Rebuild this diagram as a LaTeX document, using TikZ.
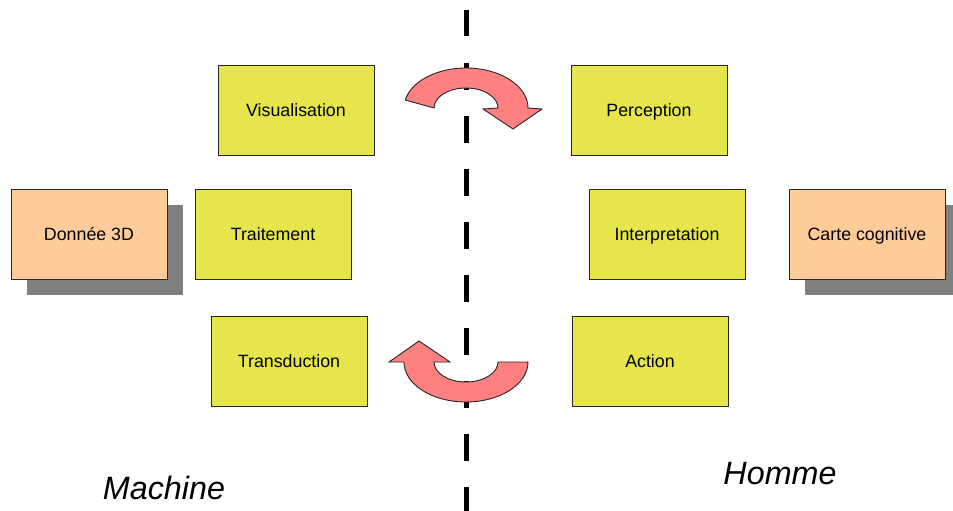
\documentclass[tikz,border=0pt]{standalone}
\usepackage{fontspec}
\setmainfont{Liberation Sans}
\definecolor{boxyellow}{RGB}{230,230,76}
\definecolor{boxorange}{RGB}{255,204,153}
\definecolor{shadowgray}{RGB}{128,128,128}
\definecolor{arrowred}{RGB}{255,128,128}
\begin{document}
\begin{tikzpicture}[x=1pt,y=-1pt,
  stage/.style={draw=black!85,line width=0.9pt,fill=boxyellow,minimum width=156pt,minimum height=90pt,inner sep=0pt,
    text height=13pt,text depth=0pt,font=\fontsize{17.8}{20}\selectfont},
  source/.style={stage,fill=boxorange},
  dropshadow/.style={fill=shadowgray,draw=none},
  turn/.style={fill=arrowred,draw=black!85,line width=0.9pt,line join=miter},
  side/.style={font=\fontsize{32.3}{36}\selectfont\itshape}]
\useasboundingbox (0,0) rectangle (953,511);
\begin{scope}
\clip (0,0) rectangle (953,511);
% separating dashed line
\draw[line width=5pt,dash pattern=on 26.5pt off 26.5pt] (466,10) coordinate (top) -- (466,530) coordinate (bottom);
% drop shadows of the two end boxes
\fill[dropshadow] (27,205) rectangle (183,295);
\fill[dropshadow] (805,205) rectangle (961,295);
\end{scope}
% machine side
\node[stage]  (vis)    at (296,110) {Visualisation};
\node[stage]  (trait)  at (273,234) {Traitement};
\node[stage]  (trans)  at (289,361) {Transduction};
\node[source] (donnee) at (89,234)  {Donnée 3D};
% human side
\node[stage]  (perc)   at (649,110) {Perception};
\node[stage]  (interp) at (667,234) {Interpretation};
\node[stage]  (action) at (650,361) {Action};
\node[source] (carte)  at (867,234) {Carte cognitive};
% circular arrows crossing the line
\coordinate (topc) at (466,108);
\draw[turn] ([shift={(191.5:62 and 40)}]topc)
  arc[start angle=191.5,end angle=360,x radius=62,y radius=40]
  -- (542,109) -- (513,129) -- (483,109) -- (498,108)
  arc[start angle=360,end angle=180,x radius=32,y radius=20]
  -- cycle;
\coordinate (botc) at (466,362);
\draw[turn] (528,362)
  arc[start angle=0,end angle=180,x radius=62,y radius=40]
  -- (389,362) -- (419,341) -- (450,362) -- (434,362)
  arc[start angle=180,end angle=0,x radius=32,y radius=20]
  -- cycle;
% side labels
\node[side] (machine) at (164,488) {Machine};
\node[side] (homme)   at (780,474) {Homme};
\end{tikzpicture}
\end{document}
